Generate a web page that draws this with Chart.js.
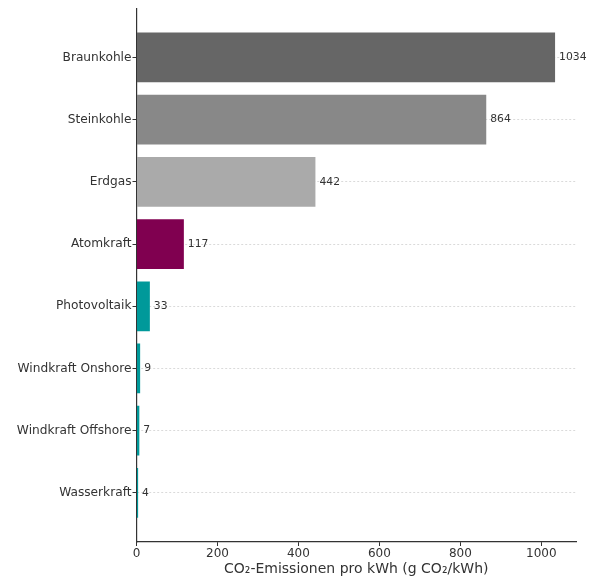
<!DOCTYPE html>
<html>
<head>
<meta charset="utf-8">
<script src="https://cdn.jsdelivr.net/npm/chart.js@4.4.0/dist/chart.umd.min.js"></script>
<style>
  html, body { margin: 0; padding: 0; background: #fff; }
  #wrap { width: 595px; height: 578px; position: relative; }
</style>
</head>
<body>
<div id="wrap"><canvas id="co2"></canvas></div>
<script>
// Lebenszyklus-Emissionen je Energieträger (g CO2/kWh)
var categories = ["Braunkohle", "Steinkohle", "Erdgas", "Atomkraft", "Photovoltaik",
                  "Windkraft Onshore", "Windkraft Offshore", "Wasserkraft"];
var emissions = [1034, 864, 442, 117, 33, 9, 7, 4];
var barColors = ["#666666", "#888888", "#aaaaaa", "#800050",
                 "#00999a", "#00999a", "#00999a", "#00999a"];
var xTicks = [0, 200, 400, 600, 800, 1000];

var FONT = "'DejaVu Sans', sans-serif";
var points = emissions.map(function (v, i) { return { x: v, y: i }; });

// Wert rechts neben jedem Balken
var valueLabels = {
  id: 'valueLabels',
  afterDatasetsDraw: function (chart) {
    var ctx = chart.ctx;
    var meta = chart.getDatasetMeta(0);
    ctx.save();
    ctx.font = "10.8px " + FONT;
    ctx.fillStyle = "#333";
    ctx.textAlign = "left";
    ctx.textBaseline = "middle";
    meta.data.forEach(function (bar, i) {
      ctx.fillText(String(emissions[i]), bar.x + 4, bar.y);
    });
    ctx.restore();
  }
};

var ctx = document.getElementById("co2");
var chart = new Chart(ctx, {
  type: 'bar',
  data: {
    datasets: [{
      data: points,
      backgroundColor: barColors,
      borderWidth: 0,
      barPercentage: 0.8,
      categoryPercentage: 1.0
    }]
  },
  options: {
    indexAxis: 'y',
    responsive: true,
    maintainAspectRatio: false,
    animation: false,
    layout: { padding: { top: 5, right: 19, left: 0, bottom: 0 } },
    plugins: {
      legend: { display: false },
      tooltip: { enabled: false }
    },
    scales: {
      x: {
        type: 'linear',
        min: 0,
        max: 1034 * 1.05,
        afterBuildTicks: function (scale) {
          scale.ticks = xTicks.map(function (v) { return { value: v }; });
        },
        afterFit: function (scale) { scale.height = 36; },
        grid: {
          drawOnChartArea: false,
          drawTicks: true,
          tickLength: 4,
          tickColor: "#333",
          tickWidth: 1
        },
        border: { color: "#333", width: 1.2 },
        ticks: {
          color: "#333",
          padding: 1,
          maxRotation: 0,
          font: { family: FONT, size: 12 },
          callback: function (v) { return String(v); }
        },
        title: {
          display: true,
          text: "CO\u2082-Emissionen pro kWh (g CO\u2082/kWh)",
          color: "#333",
          padding: { top: 0, bottom: 0 },
          font: { family: FONT, size: 14 }
        }
      },
      y: {
        type: 'linear',
        reverse: true,
        offset: false,
        min: -0.79,
        max: 7.79,
        z: 1,
        afterBuildTicks: function (scale) {
          scale.ticks = categories.map(function (c, i) { return { value: i }; });
        },
        afterFit: function (scale) { scale.width = 136.5; },
        grid: {
          offset: false,
          color: "rgba(190,190,190,0.7)",
          lineWidth: 0.8,
          drawTicks: true,
          tickLength: 4,
          tickColor: "#333",
          tickWidth: 1
        },
        border: { color: "#333", width: 1.2, dash: [2, 2] },
        ticks: {
          color: "#333",
          padding: 1,
          font: { family: FONT, size: 12.2 },
          callback: function (v) { return categories[v]; }
        }
      }
    }
  },
  plugins: [valueLabels]
});
</script>
</body>
</html>
